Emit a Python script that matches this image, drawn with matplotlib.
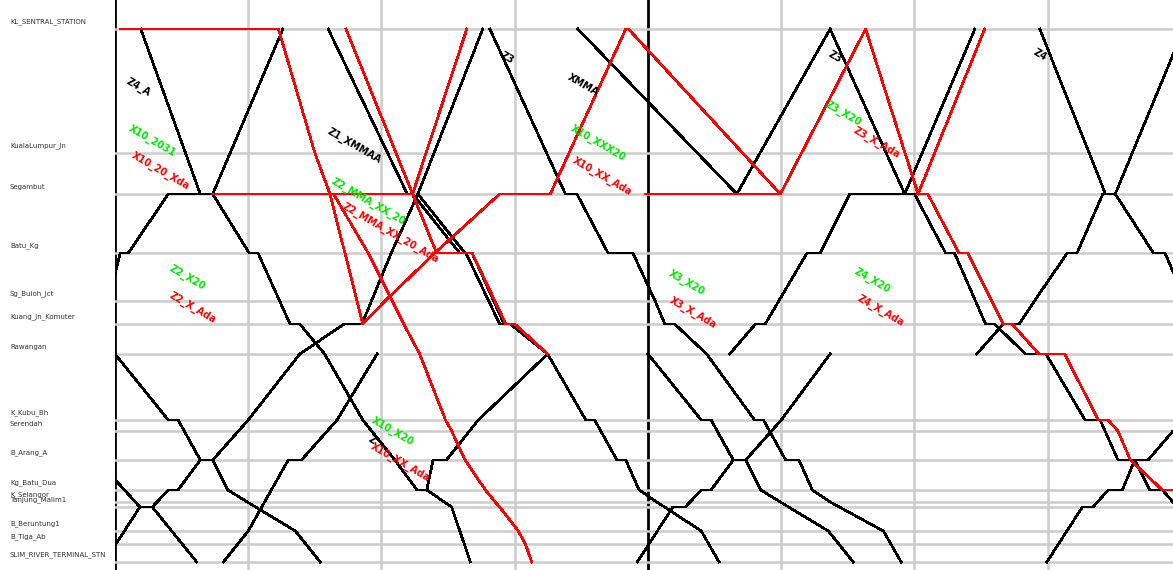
import matplotlib
matplotlib.use("Agg")
import matplotlib.pyplot as plt

# station names and their distance along the line (chart units, top = 0)
stations = ["KL_SENTRAL_STATION", "KualaLumpur_Jn", "Segambut", "Batu_Kg", "Sg_Buloh_Jct",
            "Kuang_Jn_Komuter", "Rawangan", "K_Kubu_Bh", "Serendah", "B_Arang_A", "Kg_Batu_Dua",
            "K_Selangor", "Tanjung_Malim1", "B_Beruntung1", "B_Tiga_Ab", "SLIM_RIVER_TERMINAL_STN"]
dist = [29, 153, 194, 253, 301, 324, 354, 420, 431, 460, 490, 502, 507, 531, 544, 562]

# time axis: minutes after 06:00
t_min, t_max = 0, 119.1
grid_step = 15

# train paths: (minute, station index)
black_trains = [
    [(2.9, 0), (9.6, 2), (11.0, 2), (15.1, 3), (16.1, 3), (19.7, 5), (20.8, 5), (23.6, 6),
     (27.9, 7), (31.5, 9), (34.0, 10), (35.1, 10), (37.9, 12), (40.0, 15)],
    [(-0.8, 4), (0.6, 3), (1.5, 3), (6.0, 2), (11.0, 2), (18.9, 0)],
    [(-1.0, 5), (0.0, 6), (6.0, 7), (7.1, 7), (9.6, 9), (11.0, 9), (12.7, 10), (14.9, 11),
     (20.3, 13), (23.1, 15)],
    [(-1.2, 15), (2.8, 12), (4.2, 12), (6.0, 10), (7.1, 10), (9.6, 9), (11.0, 9), (15.0, 7),
     (20.8, 6), (25.8, 5), (27.8, 5), (31.1, 3), (34.1, 2), (41.4, 0)],
    [(-2.0, 9), (2.8, 12), (4.2, 12), (9.2, 15)],
    [(12.2, 15), (15.0, 13), (19.5, 9), (21.0, 9), (25.0, 7), (29.5, 6)],
    [(24.0, 0), (32.9, 2), (33.5, 2), (38.8, 3), (39.5, 3), (43.3, 5), (44.5, 5), (48.7, 6),
     (53.0, 7), (54.0, 7), (56.5, 9), (57.5, 9), (59.0, 10), (61.0, 11), (66.0, 13), (68.0, 15)],
    [(34.1, 2), (39.4, 3), (40.2, 3), (43.8, 5), (45.0, 5), (48.7, 6)],
    [(35.1, 10), (35.8, 9), (37.3, 9), (40.9, 7), (48.7, 6)],
    [(42.2, 0), (50.7, 2), (52.0, 2), (55.5, 3), (58.3, 3), (60.8, 4), (61.9, 5), (63.0, 5),
     (66.6, 6), (72.0, 7), (73.0, 7), (75.5, 9), (77.0, 9), (78.5, 10), (80.5, 11), (86.5, 13),
     (88.5, 15)],
    [(52.1, 0), (70.0, 2), (80.5, 0)],
    [(60.0, 6), (66.0, 7), (67.1, 7), (69.6, 9), (71.0, 9), (72.7, 10), (74.9, 11), (80.3, 13),
     (83.1, 15)],
    [(69.2, 6), (72.1, 5), (73.2, 5), (77.9, 3), (79.4, 3), (82.7, 2), (88.9, 2), (96.8, 0)],
    [(58.8, 15), (62.8, 12), (64.2, 12), (66.0, 10), (67.1, 10), (69.6, 9), (71.0, 9),
     (75.0, 7), (80.5, 6)],
    [(80.5, 0), (88.9, 2), (90.0, 2), (93.5, 3), (94.5, 3), (98.0, 5), (99.0, 5), (102.5, 6),
     (104.8, 6), (109.2, 7), (110.9, 7), (112.9, 9), (114.8, 9), (116.5, 10), (117.9, 10),
     (119.1, 11)],
    [(104.1, 0), (111.5, 2), (112.6, 2), (116.9, 3), (118.2, 3), (120.5, 4)],
    [(97.0, 6), (100.0, 5), (101.8, 5), (103.5, 4), (107.2, 3), (108.3, 3), (111.2, 2),
     (112.6, 2), (120.3, 0)],
    [(104.9, 15), (108.9, 12), (110.1, 12), (111.8, 10), (113.4, 10), (114.8, 9), (116.3, 9),
     (119.1, 8), (121.0, 7)],
]

red_trains = [
    [(0.6, 0), (18.4, 0), (22.5, 1), (24.2, 2), (27.9, 5), (30.4, 4), (36.0, 3), (43.3, 2),
     (49.0, 2), (57.5, 0), (57.8, 0), (74.9, 2), (84.5, 0), (90.4, 2), (91.5, 2), (95.0, 3),
     (96.0, 3), (100.0, 5), (101.0, 5), (104.0, 6), (106.9, 6), (110.7, 7), (111.8, 7),
     (112.9, 8), (114.3, 9), (117.9, 10), (119.1, 10)],
    [(11.0, 2), (24.6, 2), (28.5, 3), (32.5, 5), (34.3, 6), (37.2, 7), (37.9, 8), (39.4, 9),
     (41.7, 10), (42.8, 11), (43.3, 12), (45.4, 13), (46.2, 14), (46.9, 15)],
    [(24.6, 2), (33.5, 2), (39.6, 0)],
    [(26.0, 0), (33.5, 2), (36.2, 3), (40.2, 3), (44.0, 5), (45.0, 5), (48.7, 6)],
    [(59.7, 2), (74.9, 2)],
    [(90.4, 2), (97.9, 0)],
]

# train number labels: (minute, position, text, colour)
labels = [
    (2.6, 87, "Z4_A", "black"), (4.2, 141, "X10_2031", "#00e600"),
    (5.1, 171, "X10_20_Xda", "red"),
    (27.0, 146, "Z1_XMMAA", "black"), (28.5, 201, "Z2_MMA_XX_20", "#00e600"),
    (31.0, 233, "Z2_MMA_XX_20_Ada", "red"), (44.1, 58, "Z3", "black"),
    (52.7, 85, "XMMA", "black"), (54.4, 143, "X10_XXX20", "#00e600"),
    (54.9, 176, "X10_XX_Ada", "red"),
    (8.2, 277, "Z2_X20", "#00e600"), (8.8, 308, "Z2_X_Ada", "red"),
    (31.3, 431, "X10_X20", "#00e600"), (28.9, 440, "Z", "black"),
    (32.1, 462, "X10_XX_Ada", "red"),
    (81.1, 57, "Z3", "black"), (82.0, 113, "Z3_X20", "#00e600"), (85.8, 143, "Z3_X_Ada", "red"),
    (104.1, 55, "Z4", "black"),
    (64.4, 283, "X3_X20", "#00e600"), (65.1, 313, "X3_X_Ada", "red"),
    (85.3, 280, "Z4_X20", "#00e600"), (86.2, 311, "Z4_X_Ada", "red"),
]

fig = plt.figure(figsize=(11.73, 5.70), dpi=100)
ax = fig.add_axes([115 / 1173, 0, 1 - 115 / 1173, 1])
ax.set_xlim(t_min, t_max)
ax.set_ylim(570, 0)
ax.axis("off")

t = t_min
while t <= t_max:
    hour = abs(t % 60) < 1e-6
    ax.axvline(t, color="black" if hour else "#cccccc", lw=2 if hour else 1.8, zorder=1)
    t += grid_step
for d in dist:
    ax.axhline(d, color="#cccccc", lw=1.8, zorder=1)


def draw(trains, colour):
    for tr in trains:
        xs = [p[0] for p in tr]
        ys = [dist[p[1]] for p in tr]
        ax.plot(xs, ys, color=colour, lw=1.2, zorder=3, antialiased=False)


draw(black_trains, "black")
draw(red_trains, "red")

for x, y, s, c in labels:
    ax.text(x, y, s, color=c, fontsize=7, fontweight="bold", rotation=-30,
            rotation_mode="anchor", ha="center", va="center", zorder=4)

for name, d in zip(stations, dist):
    fig.text(10 / 1173, 1 - (d - 7) / 570, name, fontsize=5, va="center", ha="left",
             color="#333333")

fig.savefig("out.png", dpi=100)
